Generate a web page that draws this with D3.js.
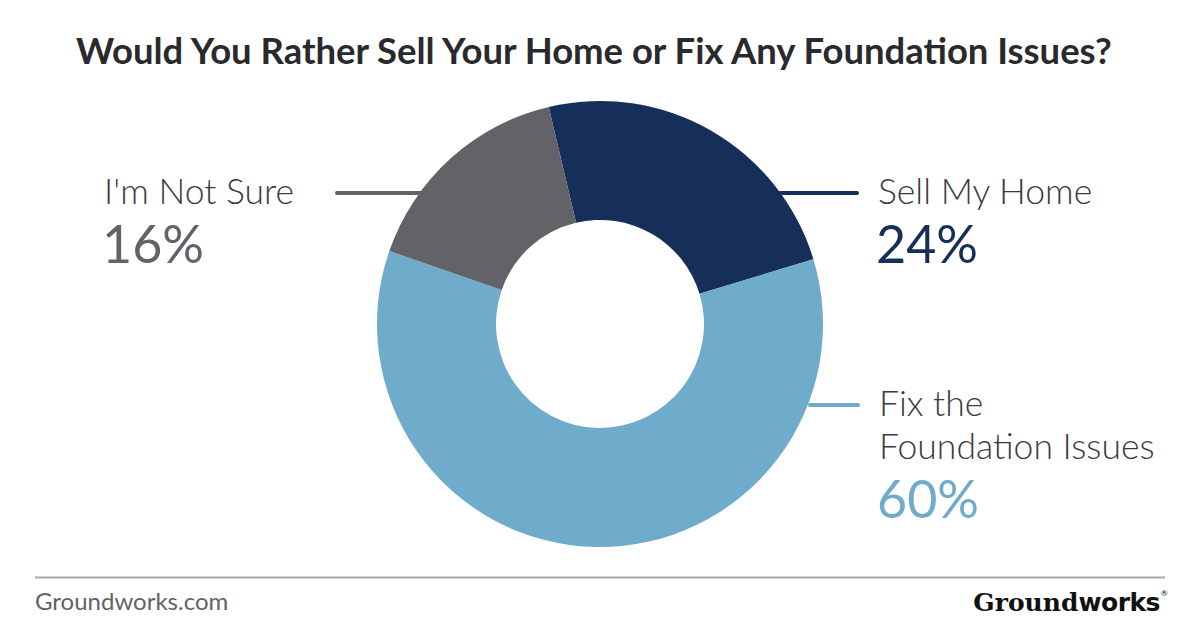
<!DOCTYPE html>
<html lang="en">
<head>
<meta charset="UTF-8">
<title>Would You Rather Sell Your Home or Fix Any Foundation Issues?</title>
<script src="https://d3js.org/d3.v7.min.js"></script>
<style>
  html, body { margin: 0; padding: 0; background: #fff; }
  svg { display: block; font-family: Lato, "Open Sans", sans-serif; }
</style>
</head>
<body>
<svg width="1200" height="628" viewBox="0 0 1200 628"></svg>
<script>
    // chart data
    const categories = ["Sell My Home", "Fix the Foundation Issues", "I'm Not Sure"]
    const values = [24, 60, 16]
    const colors = ["#152f5a", "#6fabcb", "#636268"]
    // label text lines per category (the second one wraps)
    const labelLines = [["Sell My Home"], ["Fix the", "Foundation Issues"], ["I'm Not Sure"]]

    let svg = d3.select('svg')

    const cx = 600, cy = 324
    const outerR = 223, innerR = 104
    const startAngle = -0.232   // first slice begins just left of 12 o'clock

    // title, sized to span the same width as the original
    let title = svg.append("text")
        .attr("x", 76)
        .attr("y", 64)
        .attr("font-size", 36)
        .attr("font-weight", 700)
        .attr("fill", "#2a2a2e")
        .text("Would You Rather Sell Your Home or Fix Any Foundation Issues?")
    let tw = title.node().getComputedTextLength()
    title.attr("font-size", 36 * 1036 / tw)

    let pie = d3.pie().sort(null).value(d => d)
        .startAngle(startAngle).endAngle(startAngle + 2 * Math.PI)
    let arc = d3.arc().innerRadius(innerR).outerRadius(outerR)
    let arcs = pie(values)

    // leader lines: y of each label's first line, where the line begins/ends
    const label_pos = [
        {side: "right", y: 193, x1: 780, x2: 857, tx: 878},
        {side: "right", y: 405, x1: 810, x2: 858, tx: 879},
        {side: "left",  y: 193, x1: 425, x2: 337, tx: 104}
    ]

    svg.append("g")
        .attr("stroke-width", 4)
        .attr("stroke-linecap", "round")
        .selectAll("line")
        .data(label_pos)
        .enter()
        .append("line")
        .attr("x1", d => d.x1)
        .attr("x2", d => d.x2)
        .attr("y1", d => d.y)
        .attr("y2", d => d.y)
        .attr("stroke", (d, i) => colors[i])

    // donut slices drawn on top of leader lines
    svg.append("g")
        .attr('transform', `translate(${cx},${cy})`)
        .selectAll("path")
        .data(arcs)
        .enter()
        .append("path")
        .attr("d", arc)
        .attr("fill", (d, i) => colors[i])

    // labels
    let labels = svg.append("g")
        .selectAll("g")
        .data(label_pos)
        .enter()
        .append("g")

    labels.each(function (d, i) {
        let g = d3.select(this)
        let baseY = d.y + 11
        labelLines[i].forEach((t, k) => {
            g.append("text")
                .attr("x", d.tx)
                .attr("y", baseY + k * 43)
                .attr("font-size", 35.5)
                .attr("font-weight", 300)
                .attr("fill", "#3a3a3e")
                .text(t)
        })
        g.append("text")
            .attr("x", d.tx - 2)
            .attr("y", baseY + (labelLines[i].length - 1) * 43 + 59)
            .attr("font-size", 52)
            .attr("font-weight", 400)
            .attr("fill", colors[i])
            .text(values[i] + "%")
    })

    // footer
    svg.append("line")
        .attr("x1", 35).attr("x2", 1165)
        .attr("y1", 577.5).attr("y2", 577.5)
        .attr("stroke", "#aaaaaa")
        .attr("stroke-width", 2)

    svg.append("text")
        .attr("x", 35)
        .attr("y", 610)
        .attr("font-size", 24)
        .attr("fill", "#636268")
        .text("Groundworks.com")

    let logo = svg.append("text")
        .attr("x", 1160)
        .attr("y", 611)
        .attr("text-anchor", "end")
        .attr("font-family", "'DejaVu Sans', sans-serif")
        .attr("font-size", 25)
        .attr("fill", "#111")
    logo.append("tspan").attr("font-weight", 900).attr("font-family", "'DejaVu Serif', serif").text("Ground")
    logo.append("tspan").attr("font-weight", 700).attr("letter-spacing", -0.5).text("works")
    svg.append("text")
        .attr("x", 1161).attr("y", 596)
        .attr("font-size", 8)
        .attr("fill", "#111")
        .text("®")
</script>
</body>
</html>
